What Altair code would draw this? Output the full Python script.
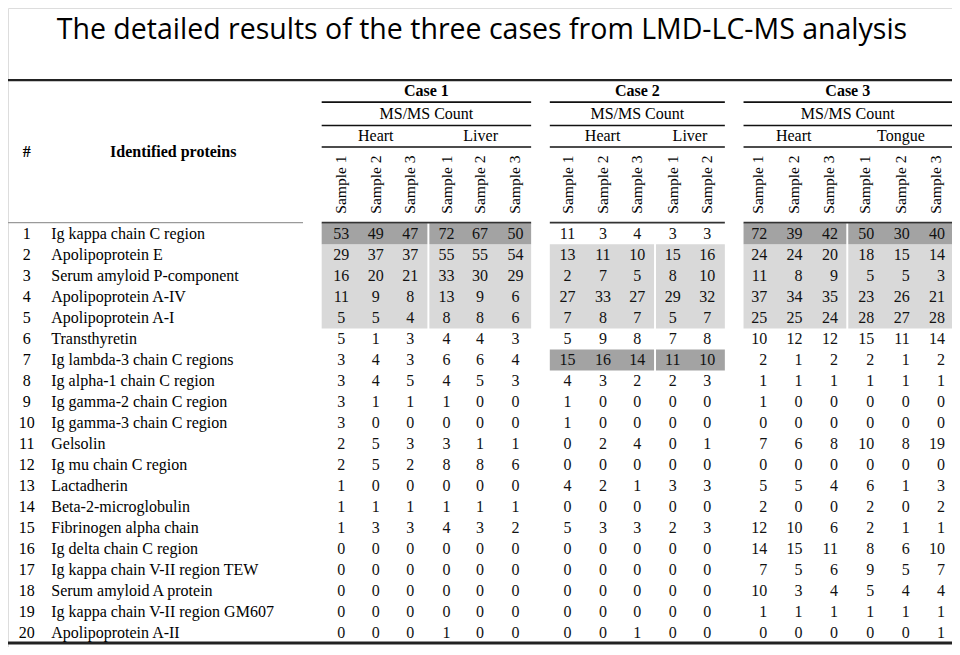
import altair as alt
import pandas as pd

TITLE = "The detailed results of the three cases from LMD-LC-MS analysis"

proteins = [
    "Ig kappa chain C region", "Apolipoprotein E", "Serum amyloid P-component",
    "Apolipoprotein A-IV", "Apolipoprotein A-I", "Transthyretin",
    "Ig lambda-3 chain C regions", "Ig alpha-1 chain C region",
    "Ig gamma-2 chain C region", "Ig gamma-3 chain C region", "Gelsolin",
    "Ig mu chain C region", "Lactadherin", "Beta-2-microglobulin",
    "Fibrinogen alpha chain", "Ig delta chain C region",
    "Ig kappa chain V-II region TEW", "Serum amyloid A protein",
    "Ig kappa chain V-II region GM607", "Apolipoprotein A-II",
]

case1 = [
    [53, 49, 47, 72, 67, 50], [29, 37, 37, 55, 55, 54], [16, 20, 21, 33, 30, 29],
    [11, 9, 8, 13, 9, 6], [5, 5, 4, 8, 8, 6], [5, 1, 3, 4, 4, 3],
    [3, 4, 3, 6, 6, 4], [3, 4, 5, 4, 5, 3], [3, 1, 1, 1, 0, 0],
    [3, 0, 0, 0, 0, 0], [2, 5, 3, 3, 1, 1], [2, 5, 2, 8, 8, 6],
    [1, 0, 0, 0, 0, 0], [1, 1, 1, 1, 1, 1], [1, 3, 3, 4, 3, 2],
    [0, 0, 0, 0, 0, 0], [0, 0, 0, 0, 0, 0], [0, 0, 0, 0, 0, 0],
    [0, 0, 0, 0, 0, 0], [0, 0, 0, 1, 0, 0],
]
case2 = [
    [11, 3, 4, 3, 3], [13, 11, 10, 15, 16], [2, 7, 5, 8, 10],
    [27, 33, 27, 29, 32], [7, 8, 7, 5, 7], [5, 9, 8, 7, 8],
    [15, 16, 14, 11, 10], [4, 3, 2, 2, 3], [1, 0, 0, 0, 0],
    [1, 0, 0, 0, 0], [0, 2, 4, 0, 1], [0, 0, 0, 0, 0],
    [4, 2, 1, 3, 3], [0, 0, 0, 0, 0], [5, 3, 3, 2, 3],
    [0, 0, 0, 0, 0], [0, 0, 0, 0, 0], [0, 0, 0, 0, 0],
    [0, 0, 0, 0, 0], [0, 0, 1, 0, 0],
]
case3 = [
    [72, 39, 42, 50, 30, 40], [24, 24, 20, 18, 15, 14], [11, 8, 9, 5, 5, 3],
    [37, 34, 35, 23, 26, 21], [25, 25, 24, 28, 27, 28], [10, 12, 12, 15, 11, 14],
    [2, 1, 2, 2, 1, 2], [1, 1, 1, 1, 1, 1], [1, 0, 0, 0, 0, 0],
    [0, 0, 0, 0, 0, 0], [7, 6, 8, 10, 8, 19], [0, 0, 0, 0, 0, 0],
    [5, 5, 4, 6, 1, 3], [2, 0, 0, 2, 0, 2], [12, 10, 6, 2, 1, 1],
    [14, 15, 11, 8, 6, 10], [7, 5, 6, 9, 5, 7], [10, 3, 4, 5, 4, 4],
    [1, 1, 1, 1, 1, 1], [0, 0, 0, 0, 0, 1],
]

case_names = ["Case 1", "Case 2", "Case 3"]
case_values = [case1, case2, case3]
case_tissues = [["Heart", "Liver"], ["Heart", "Liver"], ["Heart", "Tongue"]]
case_tissue_sizes = [[3, 3], [3, 2], [3, 3]]
light_rows = [[2, 3, 4, 5], [2, 3, 4, 5], [2, 3, 4, 5]]
dark_rows = [[1], [7], [1]]

# ---------------- layout (reference-image coordinates, scaled into the page) ----------------
COL_X = [[339, 374, 409, 446, 480, 516],
         [569, 605, 640, 676, 711],
         [763, 799, 835, 872, 908, 944]]
NUM_ALIGN = ["center", "center", "right"]
NUM_DX = [0, 0, 9]
BLOCK = [(319, 532), (551, 729), (748, 960)]
ROW_Y0, ROW_H = 231.5, 21.55
Y_CASE, Y_MS, Y_TISSUE, Y_SAMPLE = 85, 108.5, 131, 181
Y_L_TOP, Y_L_CASE, Y_L_MS, Y_L_TISSUE, Y_L_HEAD, Y_L_BOT = 74, 96.5, 120.5, 142.5, 220, 651
SERIF = "Liberation Serif"

def row_y(r):
    return ROW_Y0 + (r - 1) * ROW_H

# ---------------- build tables ----------------
cells, samples, tissues_df, cases_df, shades = [], [], [], [], []
for ci, name in enumerate(case_names):
    xs = COL_X[ci]
    cx = sum(BLOCK[ci]) / 2
    cases_df.append({"x": cx, "y": Y_CASE, "t": name, "kind": "case"})
    cases_df.append({"x": cx, "y": Y_MS, "t": "MS/MS Count", "kind": "ms"})
    start = 0
    group_edges = []
    for ti, (tn, n) in enumerate(zip(case_tissues[ci], case_tissue_sizes[ci])):
        gx = xs[start:start + n]
        tissues_df.append({"x": sum(gx) / n, "y": Y_TISSUE, "t": tn})
        for k in range(n):
            samples.append({"x": gx[k], "y": Y_SAMPLE, "t": f"Sample {k + 1}"})
        left = BLOCK[ci][0] if ti == 0 else (xs[start - 1] + xs[start]) / 2 + 1
        right = BLOCK[ci][1] if ti == len(case_tissues[ci]) - 1 else (xs[start + n - 1] + xs[start + n]) / 2 - 1
        group_edges.append((left, right))
        start += n
    for r, vals in enumerate(case_values[ci], start=1):
        for k, v in enumerate(vals):
            cells.append({"case": ci, "x": xs[k] + NUM_DX[ci], "y": row_y(r), "t": str(v)})
    for (l, rgt) in group_edges:
        rs = light_rows[ci]
        shades.append({"x": l, "x2": rgt, "y": row_y(min(rs)) - ROW_H / 2,
                       "y2": row_y(max(rs)) + ROW_H / 2, "c": "#d9d9d9"})
        for dr in dark_rows[ci]:
            shades.append({"x": l, "x2": rgt, "y": row_y(dr) - ROW_H / 2,
                           "y2": row_y(dr) + ROW_H / 2, "c": "#a3a3a3"})

cells = pd.DataFrame(cells)
samples = pd.DataFrame(samples)
tissues_df = pd.DataFrame(tissues_df)
cases_df = pd.DataFrame(cases_df)
shades = pd.DataFrame(shades)

rows_df = pd.DataFrame({"num": [str(i + 1) for i in range(len(proteins))],
                        "name": proteins,
                        "xn": 19, "xp": 44,
                        "y": [row_y(i + 1) for i in range(len(proteins))]})

thick = pd.DataFrame([{"x": 0, "x2": 960, "y": Y_L_TOP, "w": 2.2},
                      {"x": 0, "x2": 960, "y": Y_L_BOT, "w": 3}])
under = []
for b in BLOCK:
    for yy in (Y_L_CASE, Y_L_MS, Y_L_TISSUE):
        under.append({"x": b[0], "x2": b[1], "y": yy})
under = pd.DataFrame(under)
headline = pd.DataFrame([{"x": 0, "x2": 300, "y": Y_L_HEAD, "c": "#9a9a9a", "w": 1.2}] +
                        [{"x": b[0], "x2": b[1], "y": Y_L_HEAD, "c": "#333333", "w": 1.6} for b in BLOCK])
head_left = pd.DataFrame([{"x": 19, "y": 148, "t": "#"},
                          {"x": 168, "y": 148, "t": "Identified proteins"}])
title_df = pd.DataFrame([{"x": 482, "y": 32, "t": TITLE}])

# reference frame 960x655 squeezed into the 944x639 drawable page area
X = alt.Scale(domain=[0, 960], range=[0, 944], nice=False, zero=False)
Y = alt.Scale(domain=[0, 655], range=[0, 639], nice=False, zero=False)

def xq(f="x"):
    return alt.X(f"{f}:Q", scale=X, axis=None)

def yq(f="y"):
    return alt.Y(f"{f}:Q", scale=Y, axis=None)

shade_layer = alt.Chart(shades).mark_rect().encode(
    x=xq(), x2="x2:Q", y=yq(), y2="y2:Q", color=alt.Color("c:N", scale=None))

thick_layer = alt.Chart(thick).mark_rule(color="#222222").encode(
    x=xq(), x2="x2:Q", y=yq(), strokeWidth=alt.StrokeWidth("w:Q", scale=None))
under_layer = alt.Chart(under).mark_rule(color="#111111", strokeWidth=1.6).encode(
    x=xq(), x2="x2:Q", y=yq())
head_layer = alt.Chart(headline).mark_rule().encode(
    x=xq(), x2="x2:Q", y=yq(), color=alt.Color("c:N", scale=None),
    strokeWidth=alt.StrokeWidth("w:Q", scale=None))

case_layer = alt.Chart(cases_df[cases_df.kind == "case"]).mark_text(
    font=SERIF, fontSize=16, fontWeight="bold", color="#000", baseline="middle").encode(
    x=xq(), y=yq(), text="t:N")
ms_layer = alt.Chart(cases_df[cases_df.kind == "ms"]).mark_text(
    font=SERIF, fontSize=16, color="#000", baseline="middle").encode(
    x=xq(), y=yq(), text="t:N")
tissue_layer = alt.Chart(tissues_df).mark_text(
    font=SERIF, fontSize=16, color="#000", baseline="middle").encode(
    x=xq(), y=yq(), text="t:N")
sample_layer = alt.Chart(samples).mark_text(
    font=SERIF, fontSize=15.5, color="#000", baseline="middle", align="center", angle=270).encode(
    x=xq(), y=yq(), text="t:N")
head_left_layer = alt.Chart(head_left).mark_text(
    font=SERIF, fontSize=16, fontWeight="bold", color="#000", baseline="middle").encode(
    x=xq(), y=yq(), text="t:N")

num_layer = alt.Chart(rows_df).mark_text(
    font=SERIF, fontSize=16, color="#000", baseline="middle", align="center").encode(
    x=xq("xn"), y=yq(), text="num:N")
name_layer = alt.Chart(rows_df).mark_text(
    font=SERIF, fontSize=16, color="#000", baseline="middle", align="left").encode(
    x=xq("xp"), y=yq(), text="name:N")

cell_layers = []
for ci in range(3):
    cell_layers.append(alt.Chart(cells[cells.case == ci]).mark_text(
        font=SERIF, fontSize=16, color="#111", baseline="middle", align=NUM_ALIGN[ci]).encode(
        x=xq(), y=yq(), text="t:N"))

title_layer = alt.Chart(title_df).mark_text(
    font="Open Sans", fontSize=28.5, color="#000", baseline="alphabetic", align="center").encode(
    x=xq(), y=yq(), text="t:N")

chart = alt.layer(
    shade_layer, thick_layer, under_layer, head_layer,
    case_layer, ms_layer, tissue_layer, sample_layer, head_left_layer,
    num_layer, name_layer, *cell_layers, title_layer,
).properties(
    width=944, height=639, padding=0,
    autosize=alt.AutoSizeParams(type="none"),
).configure_view(stroke=None).configure(background="white")

chart.save("out.html", embed_options={"renderer": "svg", "actions": False})
